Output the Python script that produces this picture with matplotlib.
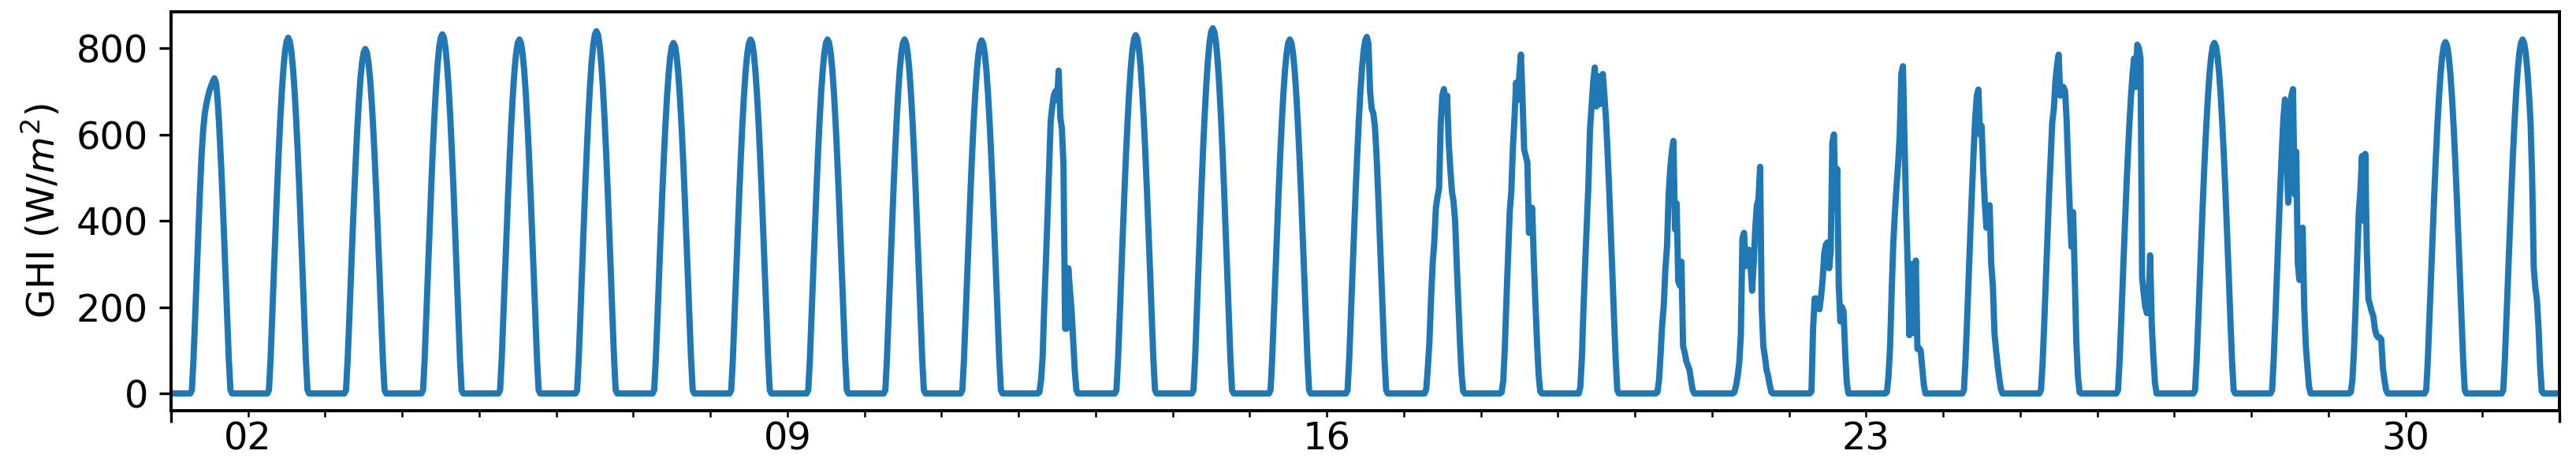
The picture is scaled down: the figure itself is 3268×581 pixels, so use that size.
import numpy as np
import pandas as pd
import matplotlib
matplotlib.use("Agg")
import matplotlib.pyplot as plt
import matplotlib.dates as mdates
from matplotlib.ticker import FuncFormatter, NullFormatter

# ---------------- data ----------------
MONTH_START = "2018-07-01"
MONTH_END = "2018-08-01"
Y_TICKS = [0, 200, 400, 600, 800]
Y_LABEL = "GHI (W/$m^2$)"

# half-hourly daytime readings (W/m^2); night-time values are 0
DAYTIME_SLOTS = ["06:30", "07:00", "07:30", "08:00", "08:30", "09:00", "09:30",
                 "10:00", "10:30", "11:00", "11:30", "12:00", "12:30", "13:00",
                 "13:30", "14:00", "14:30", "15:00", "15:30", "16:00", "16:30",
                 "17:00", "17:30", "18:00", "18:30"]

jul01 = [8, 80, 175, 276, 374, 469, 550, 610, 648, 670, 688, 702, 713, 722, 730, 720, 680, 620, 545, 460, 368, 270, 172, 78, 8]
jul02 = [8, 79, 174, 274, 372, 466, 553, 631, 698, 752, 792, 816, 824, 816, 792, 752, 698, 631, 553, 466, 372, 274, 174, 79, 8]
jul03 = [8, 77, 168, 265, 360, 451, 535, 611, 676, 729, 767, 790, 798, 790, 767, 729, 676, 611, 535, 451, 360, 265, 168, 77, 8]
jul04 = [8, 80, 176, 276, 375, 470, 558, 637, 705, 760, 800, 824, 832, 824, 800, 760, 705, 637, 558, 470, 375, 276, 176, 80, 8]
jul05 = [8, 79, 173, 272, 370, 463, 550, 628, 695, 749, 788, 812, 820, 812, 788, 749, 695, 628, 550, 463, 370, 272, 173, 79, 8]
jul06 = [8, 81, 177, 279, 378, 474, 563, 643, 711, 766, 806, 831, 839, 831, 806, 766, 711, 643, 563, 474, 378, 279, 177, 81, 8]
jul07 = [8, 78, 171, 270, 366, 459, 545, 622, 688, 741, 780, 804, 812, 804, 780, 741, 688, 622, 545, 459, 366, 270, 171, 78, 8]
jul08 = [8, 78, 172, 271, 369, 462, 549, 627, 694, 748, 787, 811, 820, 813, 789, 750, 696, 629, 551, 464, 371, 273, 174, 80, 8]
jul09 = [8, 79, 173, 272, 370, 463, 550, 628, 695, 749, 788, 812, 820, 812, 788, 749, 695, 628, 550, 463, 370, 272, 173, 79, 8]
jul10 = [8, 79, 174, 273, 371, 464, 551, 629, 696, 750, 789, 812, 820, 811, 787, 748, 694, 627, 549, 462, 369, 271, 172, 78, 8]
jul11 = [8, 79, 173, 272, 369, 462, 549, 627, 693, 747, 786, 810, 818, 810, 786, 747, 693, 627, 549, 462, 369, 272, 173, 79, 8]
jul12 = [3, 30, 84, 200, 300, 404, 520, 630, 665, 690, 700, 680, 748, 640, 614, 530, 150, 150, 290, 240, 195, 125, 55, 8, 0]
jul13 = [8, 80, 175, 276, 374, 469, 557, 636, 703, 758, 798, 822, 830, 822, 798, 758, 703, 636, 557, 469, 374, 276, 175, 80, 8]
jul14 = [8, 81, 179, 281, 382, 478, 568, 648, 717, 772, 813, 838, 846, 838, 813, 772, 717, 648, 568, 478, 382, 281, 179, 81, 8]
jul15 = [8, 79, 173, 272, 370, 463, 550, 628, 695, 749, 788, 812, 820, 812, 788, 749, 695, 628, 550, 463, 370, 272, 173, 79, 8]
jul16 = [8, 79, 174, 274, 373, 467, 554, 633, 700, 754, 794, 818, 826, 810, 700, 660, 650, 620, 554, 467, 373, 274, 174, 79, 8]
jul17 = [0, 10, 60, 120, 220, 300, 350, 430, 455, 475, 620, 690, 705, 660, 690, 580, 520, 468, 445, 400, 300, 212, 120, 45, 5]
jul18 = [3, 30, 110, 220, 320, 420, 468, 570, 640, 720, 680, 740, 785, 680, 565, 550, 535, 372, 420, 430, 310, 212, 120, 45, 5]
jul19 = [0, 15, 85, 200, 300, 390, 480, 610, 665, 720, 755, 665, 735, 670, 720, 740, 690, 635, 557, 469, 374, 276, 175, 80, 8]
jul20 = [0, 3, 30, 90, 160, 205, 290, 340, 460, 520, 560, 585, 380, 440, 260, 250, 305, 110, 95, 75, 65, 55, 30, 8, 0]
jul21 = [0, 3, 18, 40, 70, 135, 360, 372, 295, 320, 333, 300, 238, 300, 384, 436, 450, 525, 200, 110, 85, 55, 40, 20, 3]
jul22 = [0, 5, 150, 220, 220, 205, 195, 225, 265, 325, 345, 350, 290, 330, 580, 600, 430, 520, 250, 167, 200, 190, 95, 25, 0]
jul23 = [3, 40, 110, 240, 350, 420, 480, 532, 600, 740, 758, 580, 420, 290, 135, 300, 140, 200, 308, 103, 105, 100, 60, 20, 0]
jul24 = [8, 80, 175, 276, 374, 469, 557, 636, 690, 704, 600, 620, 520, 442, 384, 420, 436, 300, 250, 140, 100, 65, 35, 10, 0]
jul25 = [8, 70, 160, 260, 360, 460, 545, 627, 660, 723, 760, 785, 690, 700, 710, 700, 630, 520, 420, 340, 420, 276, 120, 40, 3]
jul26 = [8, 78, 170, 268, 364, 457, 542, 619, 684, 738, 776, 710, 808, 800, 776, 270, 230, 200, 186, 200, 320, 160, 85, 25, 0]
jul27 = [8, 78, 171, 270, 366, 459, 545, 622, 688, 741, 780, 804, 812, 804, 780, 741, 688, 622, 545, 459, 366, 270, 171, 78, 8]
jul28 = [8, 80, 175, 276, 374, 469, 557, 636, 681, 560, 442, 600, 690, 705, 461, 560, 300, 263, 300, 384, 200, 110, 60, 15, 0]
jul29 = [0, 3, 30, 100, 200, 310, 420, 470, 550, 400, 555, 330, 218, 205, 190, 180, 150, 135, 130, 130, 125, 60, 30, 8, 0]
jul30 = [8, 78, 172, 270, 367, 460, 546, 624, 689, 743, 782, 806, 814, 806, 782, 743, 689, 624, 546, 460, 367, 270, 172, 78, 8]
jul31 = [8, 79, 173, 272, 370, 463, 550, 628, 695, 749, 788, 812, 820, 812, 788, 749, 695, 628, 500, 290, 245, 215, 150, 60, 5]

DAILY_GHI = [jul01, jul02, jul03, jul04, jul05, jul06, jul07, jul08, jul09, jul10,
             jul11, jul12, jul13, jul14, jul15, jul16, jul17, jul18, jul19, jul20,
             jul21, jul22, jul23, jul24, jul25, jul26, jul27, jul28, jul29, jul30,
             jul31]

# ---------------- build the time series ----------------
index = pd.date_range(MONTH_START, MONTH_END, freq="30min")
ghi = pd.Series(0.0, index=index)
days = pd.date_range(MONTH_START, periods=len(DAILY_GHI), freq="D")
slot_offsets = [pd.Timedelta(s + ":00") for s in DAYTIME_SLOTS]
for day, vals in zip(days, DAILY_GHI):
    stamps = [day + off for off in slot_offsets]
    ghi.loc[stamps] = vals

# ---------------- plot ----------------
plt.rcParams["font.family"] = ["DejaVu Sans"]
plt.rcParams["font.size"] = 11.5

W, H, DPI = 3268, 581, 300
fig = plt.figure(figsize=(W / DPI, H / DPI), dpi=DPI)
left, right, bottom, top = 217 / W, 3247 / W, 1 - 521 / H, 1 - 14.5 / H
ax = fig.add_axes([left, bottom, right - left, top - bottom])

ax.plot(ghi.index, ghi.values, color="#1f77b4", lw=1.9)

ax.set_xlim(pd.Timestamp(MONTH_START), pd.Timestamp(MONTH_END))
ax.set_ylim(-40, 885)
ax.xaxis.set_major_locator(mdates.MonthLocator())
ax.xaxis.set_major_formatter(NullFormatter())
ax.xaxis.set_minor_locator(mdates.DayLocator())


def monday_label(x, pos):
    d = mdates.num2date(x)
    return d.strftime("%d") if d.weekday() == 0 else ""


ax.xaxis.set_minor_formatter(FuncFormatter(monday_label))
ax.tick_params(axis="x", which="both", pad=1.0)
ax.set_yticks(Y_TICKS)
ax.set_ylabel(Y_LABEL)
for s in ax.spines.values():
    s.set_linewidth(0.95)

fig.savefig("out.png", dpi=DPI)
